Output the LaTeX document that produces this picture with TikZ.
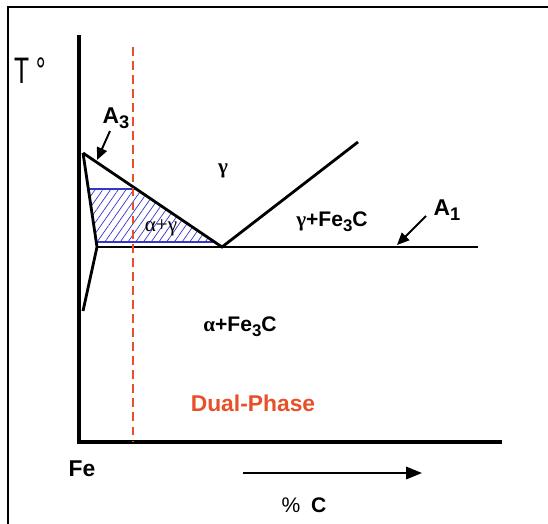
\documentclass[tikz,border=0pt]{standalone}
\usepackage{fontspec}
\setmainfont{Liberation Sans}
\newfontfamily\greekfont{Liberation Serif}
\usepackage{xcolor}
\usepackage{tikz}
\usetikzlibrary{arrows.meta,patterns.meta}
\definecolor{dpred}{HTML}{E8502A}
\definecolor{hatchblue}{HTML}{3535C8}
\newcommand{\lowidx}[1]{\raisebox{-0.45ex}{\scalebox{0.8}{#1}}}

\begin{document}
\begin{tikzpicture}[x=0.02cm,y=-0.02cm,
  axis/.style={line width=2.3pt},
  phase/.style={line width=1.6pt},
  lbl/.style={font=\bfseries\fontsize{12}{14}\selectfont},
  ptr/.style={line width=1.1pt,-{Triangle[length=7pt,width=6pt]}}]
\useasboundingbox (0,0) rectangle (548,524);

\coordinate (F1) at (8,524);
\coordinate (F2) at (8,7);
\coordinate (F3) at (548,7);
\draw[line width=1.2pt] (F1) -- (F2) -- (F3);

\coordinate (O) at (79,442);
\coordinate (Ytop) at (79,35);
\coordinate (Xend) at (502,442);

\coordinate (P) at (83,153);
\coordinate (E) at (222,247);
\coordinate (G) at (358,142);
\coordinate (S) at (97,247);
\coordinate (Q) at (83,311);
\coordinate (R) at (478,247);

\coordinate (H1) at (88,189);
\coordinate (H2) at (136,189);
\coordinate (H3) at (214,242);
\coordinate (H4) at (96,242);

\fill[pattern={Lines[angle=55,distance=3.6pt,line width=0.4pt]},pattern color=hatchblue]
  (H1) -- (H2) -- (H3) -- (H4) -- cycle;
\draw[hatchblue,line width=0.7pt] (H1) -- (H2);
\draw[hatchblue,line width=0.7pt] (H4) -- (H3);

\draw[axis] (Ytop) -- (O) -- (Xend);

\draw[phase] (P) -- (E) -- (G);
\draw[phase] (P) -- (S) -- (Q);
\draw[phase] (S) -- (R);

\coordinate (D1) at (133,47);
\coordinate (D2) at (133,442);
\draw[dpred,line width=1.2pt,dash pattern=on 5pt off 3pt] (D1) -- (D2);

\node[font=\fontsize{14}{16}\selectfont] (tlab) at (30,71) {\scalebox{1}[1.5]{T °}};
\node[lbl,font=\bfseries\fontsize{13}{15}\selectfont] (a3) at (116,118) {A\lowidx{3}};
\node[lbl,font=\bfseries\fontsize{13}{15}\selectfont] (a1) at (447,210) {A\lowidx{1}};

\coordinate (a3tail) at (110,131);
\coordinate (a3tip) at (97,160);
\coordinate (a1tail) at (426,216);
\coordinate (a1tip) at (397,245);
\draw[ptr] (a3tail) -- (a3tip);
\draw[ptr] (a1tail) -- (a1tip);

\node[lbl] (gam) at (223,171) {\greekfont γ};
\node[font=\greekfont\fontsize{12}{14}\selectfont] (ag) at (161,228) {α+γ};
\node[lbl] (gfe) at (332,222) {{\greekfont γ}+Fe\lowidx{3}C};
\node[lbl] (afe) at (240,327) {{\greekfont α}+Fe\lowidx{3}C};
\node[lbl,text=dpred,font=\bfseries\fontsize{13}{15}\selectfont] (dp) at (253,403) {Dual-Phase};
\node[lbl,font=\bfseries\fontsize{13}{15}\selectfont] (fe) at (82,469) {Fe};
\node[font=\fontsize{12}{14}\selectfont] (pc) at (304,505) {\%\hspace{6pt}\textbf{C}};

\coordinate (C1) at (243,473);
\coordinate (C2) at (422,473);
\draw[line width=1.2pt,-{Triangle[length=9pt,width=7pt]}] (C1) -- (C2);
\end{tikzpicture}
\end{document}
